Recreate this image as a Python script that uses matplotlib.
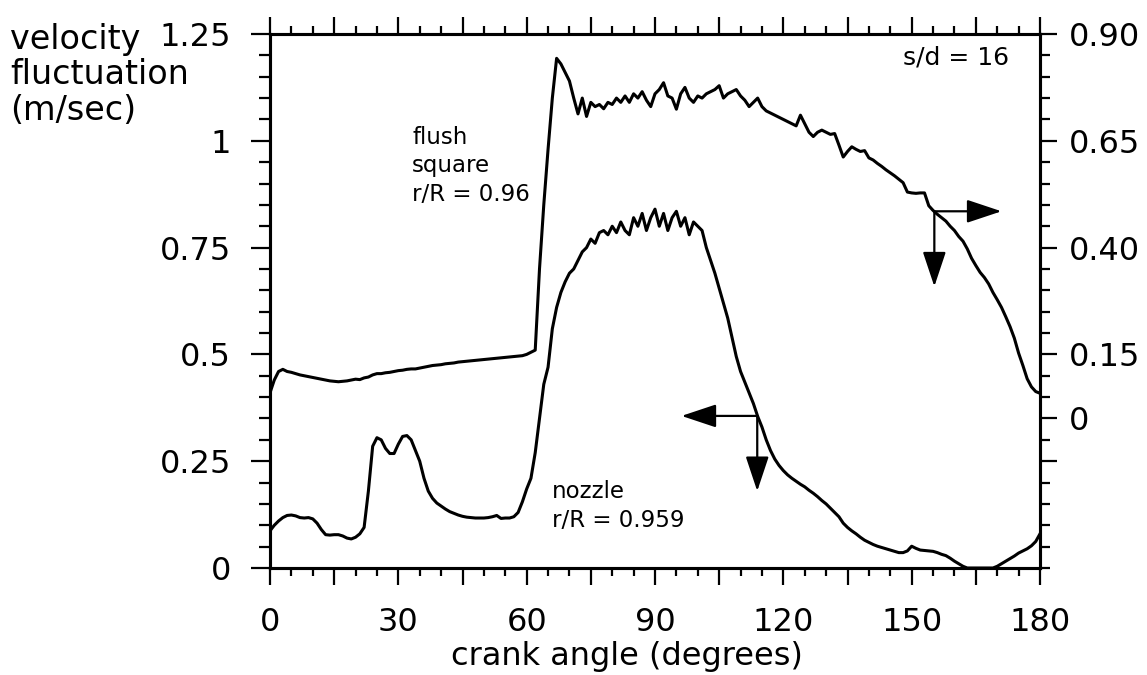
import matplotlib
matplotlib.use('Agg')
import matplotlib.pyplot as plt
from matplotlib.ticker import MultipleLocator, FuncFormatter

plt.rcParams['font.family'] = ['DejaVu Sans']

# crank angle grid (degrees), 1 degree steps
crank_angle = list(range(0, 181))

# flush square, r/R = 0.96 (left axis, m/sec)
flush_square = [
    0.41, 0.44, 0.46, 0.465, 0.46, 0.458, 0.455, 0.452, 0.45, 0.448,
    0.446, 0.444, 0.442, 0.44, 0.438, 0.437, 0.436, 0.437, 0.438, 0.44,
    0.442, 0.441, 0.445, 0.447, 0.452, 0.455, 0.455, 0.457, 0.458, 0.46,
    0.462, 0.463, 0.465, 0.466, 0.466, 0.468, 0.47, 0.472, 0.474, 0.475,
    0.476, 0.478, 0.479, 0.48, 0.482, 0.483, 0.484, 0.485, 0.486, 0.487,
    0.488, 0.489, 0.49, 0.491, 0.492, 0.493, 0.494, 0.495, 0.496, 0.497,
    0.50, 0.505, 0.51, 0.70, 0.85, 0.98, 1.10, 1.193, 1.18, 1.16,
    1.14, 1.10, 1.063, 1.10, 1.057, 1.09, 1.08, 1.085, 1.075, 1.09,
    1.085, 1.10, 1.09, 1.105, 1.09, 1.11, 1.10, 1.115, 1.095, 1.08,
    1.11, 1.12, 1.136, 1.105, 1.10, 1.074, 1.11, 1.125, 1.10, 1.09,
    1.105, 1.10, 1.11, 1.115, 1.12, 1.129, 1.10, 1.11, 1.115, 1.12,
    1.105, 1.095, 1.08, 1.09, 1.10, 1.08, 1.07, 1.065, 1.06, 1.055,
    1.05, 1.045, 1.04, 1.035, 1.06, 1.04, 1.02, 1.01, 1.02, 1.025,
    1.02, 1.015, 1.017, 0.99, 0.962, 0.975, 0.986, 0.98, 0.975, 0.977,
    0.96, 0.955, 0.947, 0.94, 0.932, 0.925, 0.918, 0.91, 0.902, 0.88,
    0.878, 0.877, 0.878, 0.878, 0.848, 0.837, 0.828, 0.82, 0.812, 0.80,
    0.79, 0.776, 0.765, 0.747, 0.725, 0.708, 0.692, 0.68, 0.665, 0.645,
    0.628, 0.61, 0.588, 0.565, 0.538, 0.503, 0.474, 0.443, 0.424, 0.413,
    0.409,
]

# nozzle, r/R = 0.959 (left axis, m/sec)
nozzle = [
    0.087, 0.10, 0.11, 0.118, 0.123, 0.124, 0.122, 0.118, 0.117, 0.118,
    0.115, 0.105, 0.09, 0.078, 0.077, 0.078, 0.078, 0.075, 0.070, 0.068,
    0.072, 0.08, 0.095, 0.18, 0.285, 0.305, 0.30, 0.28, 0.268, 0.268,
    0.29, 0.308, 0.31, 0.30, 0.275, 0.25, 0.21, 0.18, 0.163, 0.152,
    0.145, 0.138, 0.132, 0.128, 0.124, 0.121, 0.119, 0.118, 0.117, 0.117,
    0.117, 0.118, 0.12, 0.123, 0.116, 0.117, 0.117, 0.12, 0.13, 0.155,
    0.185, 0.21, 0.27, 0.35, 0.43, 0.47, 0.56, 0.61, 0.645, 0.67,
    0.69, 0.70, 0.72, 0.74, 0.75, 0.77, 0.76, 0.785, 0.79, 0.78,
    0.80, 0.785, 0.81, 0.79, 0.78, 0.82, 0.80, 0.83, 0.79, 0.82,
    0.84, 0.80, 0.83, 0.79, 0.82, 0.835, 0.80, 0.82, 0.78, 0.81,
    0.80, 0.79, 0.75, 0.72, 0.69, 0.655, 0.62, 0.585, 0.54, 0.495,
    0.46, 0.435, 0.41, 0.385, 0.355, 0.33, 0.30, 0.275, 0.255, 0.24,
    0.228, 0.218, 0.21, 0.203, 0.196, 0.19, 0.182, 0.175, 0.167, 0.158,
    0.15, 0.14, 0.13, 0.12, 0.105, 0.095, 0.087, 0.08, 0.072, 0.065,
    0.06, 0.055, 0.051, 0.048, 0.045, 0.042, 0.039, 0.036, 0.036, 0.04,
    0.051, 0.046, 0.042, 0.041, 0.04, 0.039, 0.036, 0.032, 0.029, 0.023,
    0.016, 0.01, 0.004, 0.0, 0.0, 0.0, 0.0, 0.0, 0.0, 0.0,
    0.004, 0.01, 0.016, 0.022, 0.028, 0.035, 0.04, 0.045, 0.052, 0.062,
    0.08,
]

right_ticks = [0.90, 0.65, 0.40, 0.15, 0.0, -0.10]
right_labels = ['0.90', '0.65', '0.40', '0.15', '0', '']

ylabel_lines = ['velocity', 'fluctuation', '(m/sec)']

W, H = 1147, 675
fig = plt.figure(figsize=(W / 100, H / 100), dpi=100)
ax = fig.add_axes([270 / W, 1 - 568 / H, (1040 - 270) / W, (568 - 34) / H])

ax.plot(crank_angle, flush_square, color='black', lw=2.2)
ax.plot(crank_angle, nozzle, color='black', lw=2.2)

ax.set_xlim(0, 180)
ax.set_ylim(0, 1.25)
ax.xaxis.set_major_locator(MultipleLocator(15))
ax.xaxis.set_minor_locator(MultipleLocator(5))
ax.xaxis.set_major_formatter(FuncFormatter(lambda v, p: f'{v:.0f}' if round(v) % 30 == 0 else ''))
ax.yaxis.set_major_locator(MultipleLocator(0.25))
ax.yaxis.set_minor_locator(MultipleLocator(0.05))
ax.yaxis.set_major_formatter(FuncFormatter(lambda v, p: f'{v:g}'))

for s in ax.spines.values():
    s.set_linewidth(2.2)

ax.tick_params(axis='x', which='both', direction='out', top=True, width=1.6)
ax.tick_params(axis='x', which='major', length=12, labelsize=23, pad=16)
ax.tick_params(axis='x', which='minor', length=6)
ax.tick_params(axis='y', which='both', direction='out', width=1.6)
ax.tick_params(axis='y', which='major', length=14, labelsize=23, pad=14)
ax.tick_params(axis='y', which='minor', length=8)

ax2 = ax.twinx()
ax2.set_ylim(-0.35, 0.90)
ax2.set_yticks(right_ticks)
ax2.set_yticklabels(right_labels)
ax2.yaxis.set_minor_locator(MultipleLocator(0.05))
ax2.tick_params(axis='y', which='both', direction='out', width=1.6)
ax2.tick_params(axis='y', which='major', length=12, labelsize=23, pad=9)
ax2.tick_params(axis='y', which='minor', length=7)
for s in ax2.spines.values():
    s.set_linewidth(2.2)

fig.text(627 / W, 3 / H, 'crank angle (degrees)', ha='center', va='bottom', fontsize=23)

# y-axis title, one line at a time, top left of the figure
for i, line in enumerate(ylabel_lines):
    fig.text(10 / W, 1 - (40 + 35 * i) / H, line, ha='left', va='center', fontsize=24)

ax.text(33.2, 1.035, 'flush\nsquare\nr/R = 0.96', ha='left', va='top', fontsize=16.5, linespacing=1.3)
ax.text(66, 0.205, 'nozzle\nr/R = 0.959', ha='left', va='top', fontsize=16.5, linespacing=1.3)
ax.text(172.8, 1.195, 's/d = 16', ha='right', va='center', fontsize=18)

arrow = dict(arrowstyle='-|>,head_length=0.9,head_width=0.3', color='black', lw=1.6,
             mutation_scale=24, shrinkA=0, shrinkB=0)
ax.annotate('', xy=(171, 0.835), xytext=(155.3, 0.835), arrowprops=arrow)
ax.annotate('', xy=(155.3, 0.659), xytext=(155.3, 0.835), arrowprops=arrow)
ax.annotate('', xy=(96.2, 0.356), xytext=(113.9, 0.356), arrowprops=arrow)
ax.annotate('', xy=(113.9, 0.18), xytext=(113.9, 0.356), arrowprops=arrow)

fig.savefig('out.png', dpi=100)
